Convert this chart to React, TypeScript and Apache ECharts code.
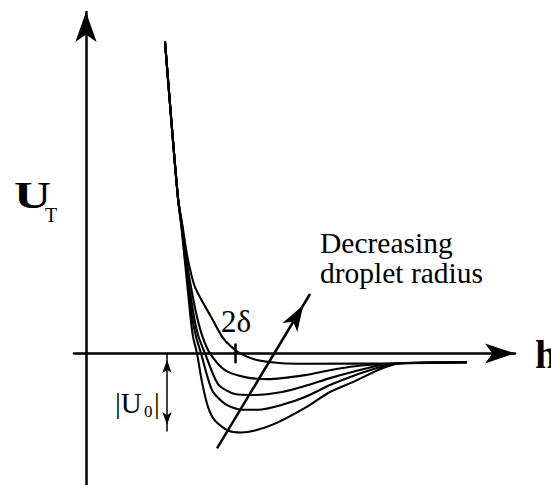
import React, { useEffect, useRef } from "react";
import * as echarts from "echarts";

// Shared steep repulsive branch (h, U_T) in arbitrary units
const COMMON_H = [7.9, 8.6, 9.2];
const COMMON_U = [31.5, 22.7, 15.7];

// Curves, from largest droplet radius (shallowest well) to smallest (deepest well)
const C1_H = [9.68, 10.15, 10.9, 12.5, 13.6, 14.4, 15.4, 17.2, 19.6, 21.9, 31.4, 38.1];
const C1_U = [12.7, 9.7, 6.7, 3.7, 1.7, 0.8, 0, -0.7, -1.0, -1.05, -1.0, -0.9];

const C2_H = [9.63, 10.0, 10.5, 11.1, 11.65, 12.4, 13.9, 15.9, 18.2, 21.9, 24.4, 26.9, 29.4, 31.4, 38.1];
const C2_U = [12.7, 9.7, 6.7, 3.7, 1.7, 0, -1.7, -2.4, -2.6, -2.2, -1.7, -1.3, -1.1, -1.0, -0.9];

const C3_H = [9.6, 9.95, 10.35, 10.8, 11.25, 11.9, 13.2, 14.9, 16.9, 19.6, 21.9, 24.4, 26.9, 29.4, 31.4, 38.1];
const C3_U = [12.7, 9.7, 6.7, 3.7, 1.7, 0, -3.1, -4.1, -4.2, -3.9, -3.3, -2.5, -1.8, -1.2, -1.0, -0.9];

const C4_H = [9.57, 9.9, 10.25, 10.6, 11.0, 11.5, 12.6, 13.9, 15.6, 17.2, 19.6, 21.9, 24.4, 26.9, 29.4, 31.4, 38.1];
const C4_U = [12.7, 9.7, 6.7, 3.7, 1.7, 0, -3.7, -5.1, -5.7, -5.7, -5.2, -4.4, -3.2, -2.2, -1.4, -1.0, -0.9];

const C5_H = [9.55, 9.85, 10.15, 10.45, 10.7, 11.1, 11.6, 12.2, 12.9, 14.2, 15.5, 16.9, 18.9, 21.9, 24.4, 26.9, 29.4, 31.4, 38.1];
const C5_U = [12.7, 9.7, 6.7, 3.7, 1.7, 0, -2.9, -5.4, -6.8, -7.8, -8.0, -7.8, -7.1, -5.5, -3.9, -2.8, -1.6, -1.0, -0.9];

// Annotations
const U0 = -7.9;
const U0_ARROW_H = 8.1;
const TWO_DELTA_H = 14.9;
const TICK_HALF = 1.0;
const TREND_FROM = [13.1, -9.6];
const TREND_TO = [22.4, 6.0];

const X_MIN = -1.2;
const X_MAX = 42.9;
const Y_MIN = -13.3;
const Y_MAX = 34.5;

const SERIF = "'Liberation Serif', 'Times New Roman', serif";

function pts(h: number[], u: number[]) {
  const out: number[][] = [];
  COMMON_H.forEach((x, i) => out.push([x, COMMON_U[i]]));
  h.forEach((x, i) => out.push([x, u[i]]));
  return out;
}

export default function App() {
  const ref = useRef<HTMLDivElement>(null);
  useEffect(() => {
    if (!ref.current) return;
    const chart = echarts.init(ref.current, undefined, { renderer: "svg" });
    const curveStyle = { color: "#000", width: 2.1 };
    const mk = (h: number[], u: number[], extra: any = {}) => ({
      type: "line",
      data: pts(h, u),
      smooth: 0.25,
      showSymbol: false,
      symbol: "none",
      lineStyle: curveStyle,
      silent: true,
      ...extra,
    });
    chart.setOption({
      animation: false,
      grid: { left: 74, top: 12, width: 441, height: 478 },
      xAxis: {
        type: "value",
        min: X_MIN,
        max: X_MAX,
        axisLine: {
          onZero: true,
          symbol: ["none", "arrow"],
          symbolSize: [15, 30],
          lineStyle: { color: "#000", width: 2.5 },
        },
        axisTick: { show: false },
        axisLabel: { show: false },
        splitLine: { show: false },
      },
      yAxis: {
        type: "value",
        min: Y_MIN,
        max: Y_MAX,
        axisLine: {
          onZero: true,
          symbol: ["none", "arrow"],
          symbolSize: [16, 30],
          lineStyle: { color: "#000", width: 2.5 },
        },
        axisTick: { show: false },
        axisLabel: { show: false },
        splitLine: { show: false },
      },
      series: [
        mk(C1_H, C1_U, {
          markLine: {
            silent: true,
            symbol: ["none", "none"],
            label: { show: false },
            lineStyle: { color: "#000", width: 2.5, type: "solid" },
            data: [[{ coord: [TWO_DELTA_H, TICK_HALF] }, { coord: [TWO_DELTA_H, -TICK_HALF] }]],
          },
        }),
        mk(C2_H, C2_U),
        mk(C3_H, C3_U, {
          markLine: {
            silent: true,
            symbol: ["none", "arrow"],
            symbolSize: [13, 26],
            symbolOffset: [[0, 0], [0, "50%"]],
            label: { show: false },
            lineStyle: { color: "#000", width: 2.5, type: "solid" },
            data: [[{ coord: TREND_FROM }, { coord: TREND_TO }]],
          },
        }),
        mk(C4_H, C4_U),
        mk(C5_H, C5_U, {
          markLine: {
            silent: true,
            symbol: ["arrow", "arrow"],
            symbolSize: [7, 13],
            symbolOffset: [[0, "50%"], [0, "50%"]],
            label: { show: false },
            lineStyle: { color: "#000", width: 1.5, type: "solid" },
            data: [[{ coord: [U0_ARROW_H, 0] }, { coord: [U0_ARROW_H, U0] }]],
          },
        }),
      ],
      graphic: [
        {
          type: "text",
          x: 14,
          y: 195,
          scaleX: 1.35,
          style: { text: "U", fontSize: 38, fontWeight: "bold", fontFamily: SERIF, fill: "#000", verticalAlign: "middle" },
        },
        {
          type: "text",
          x: 45,
          y: 215,
          style: { text: "T", fontSize: 20, fontFamily: SERIF, fill: "#000", verticalAlign: "middle" },
        },
        {
          type: "text",
          x: 535,
          y: 354,
          style: { text: "h", fontSize: 40, fontWeight: "bold", fontFamily: SERIF, fill: "#000", verticalAlign: "middle" },
        },
        {
          type: "text",
          x: 320,
          y: 243,
          style: { text: "Decreasing", fontSize: 29.5, fontFamily: SERIF, fill: "#000", verticalAlign: "middle" },
        },
        {
          type: "text",
          x: 320,
          y: 273,
          style: { text: "droplet radius", fontSize: 29.5, fontFamily: SERIF, fill: "#000", verticalAlign: "middle" },
        },
        {
          type: "text",
          x: 221,
          y: 321,
          style: { text: "2δ", fontSize: 31, fontFamily: SERIF, fill: "#000", verticalAlign: "middle" },
        },
        {
          type: "text",
          x: 115,
          y: 403,
          style: { text: "|U", fontSize: 29, fontFamily: SERIF, fill: "#000", verticalAlign: "middle" },
        },
        {
          type: "text",
          x: 144,
          y: 411,
          style: { text: "0", fontSize: 17, fontFamily: SERIF, fill: "#000", verticalAlign: "middle" },
        },
        {
          type: "text",
          x: 154,
          y: 403,
          style: { text: "|", fontSize: 29, fontFamily: SERIF, fill: "#000", verticalAlign: "middle" },
        },
      ],
    });
    return () => chart.dispose();
  }, []);
  return (
    <div
      ref={ref}
      style={{ position: "fixed", left: 0, top: 0, width: 551, height: 485, background: "#fff" }}
    />
  );
}
